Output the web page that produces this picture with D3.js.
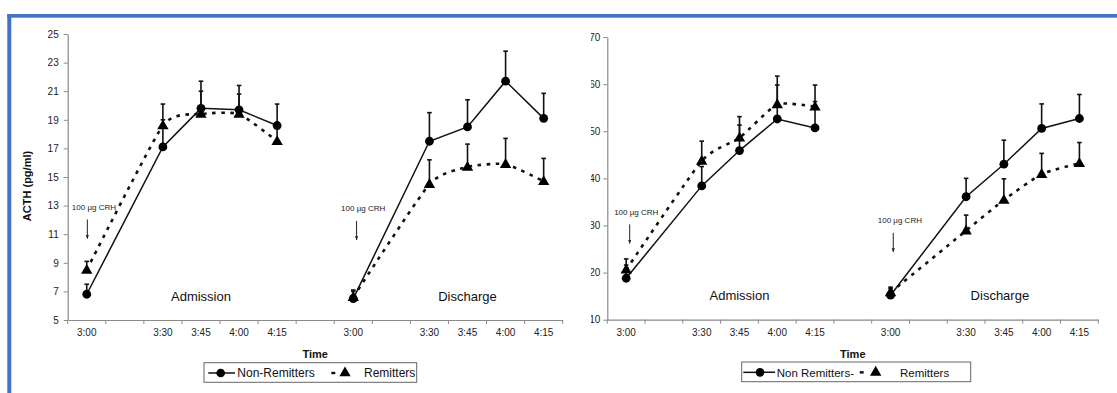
<!DOCTYPE html>
<html>
<head>
<meta charset="utf-8">
<script src="https://cdn.jsdelivr.net/npm/d3@7"></script>
<style>
  html, body { margin: 0; padding: 0; background: #fff; }
  svg { display: block; font-family: "Liberation Sans", Arial, sans-serif; }
</style>
</head>
<body>
<svg id="chart" width="1117" height="393"></svg>
<script>
// Category axis: sampling times, with blank slots separating the two sessions
const timeLabels = ["3:00", "", "3:30", "3:45", "4:00", "4:15", "", "3:00", "", "3:30", "3:45", "4:00", "4:15"];
const sessions = ["Admission", "Discharge"];

// Left figure: ACTH (pg/ml), mean and SE
const acthNonRemAdmission   = [6.8, 17.1, 19.8, 19.7, 18.6];
const acthNonRemAdmissionSE = [0.7, 3.0, 1.9, 1.7, 1.5];
const acthRemAdmission      = [8.5, 18.6, 19.4, 19.4, 17.5];
const acthRemAdmissionSE    = [0.6, 0.4, 1.6, 1.4, 0.9];
const acthNonRemDischarge   = [6.5, 17.5, 18.5, 21.7, 19.1];
const acthNonRemDischargeSE = [0.6, 2.0, 1.9, 2.1, 1.75];
const acthRemDischarge      = [6.6, 14.5, 15.7, 15.9, 14.7];
const acthRemDischargeSE    = [0.4, 1.7, 1.6, 1.8, 1.6];
const acthTicks = [5, 7, 9, 11, 13, 15, 17, 19, 21, 23, 25];

// Right figure: mean and SE
const rightNonRemAdmission   = [18.8, 38.4, 45.9, 52.6, 50.7];
const rightNonRemAdmissionSE = [2.8, 4.1, 5.4, 7.2, 5.6];
const rightRemAdmission      = [20.6, 43.7, 48.6, 55.7, 55.2];
const rightRemAdmissionSE    = [2.3, 4.2, 4.5, 6.0, 4.6];
const rightNonRemDischarge   = [15.2, 36.1, 43.0, 50.6, 52.7];
const rightNonRemDischargeSE = [1.7, 3.9, 5.1, 5.2, 5.1];
const rightRemDischarge      = [15.8, 28.9, 35.4, 40.9, 43.2];
const rightRemDischargeSE    = [0.8, 3.3, 4.5, 4.4, 4.4];
const rightTicks = [10, 20, 30, 40, 50, 60, 70];

const doseLabel = "100 µg CRH";

// Category slots that carry a time label, split per session
const filled = timeLabels.map((t, i) => t ? i : -1).filter(i => i >= 0);
const sessionSlots = [filled.slice(0, 5), filled.slice(5, 10)];

const svg = d3.select("#chart");
const defs = svg.append("defs");

// Slide frame
const frameColor = "#4472c4";
svg.append("rect").attr("x", 7.3).attr("y", 14).attr("width", 1117 - 7.3).attr("height", 3.7).attr("fill", frameColor);
svg.append("rect").attr("x", 7.3).attr("y", 14).attr("width", 4).attr("height", 393 - 14).attr("fill", frameColor);

const panels = [
  {
    xRange: [67.7, 562.7], yDomain: [5, 25], yRange: [320, 34], ticks: acthTicks,
    yTitle: "ACTH (pg/ml)", tickPad: 5, clipX: null, legendFont: 12,
    series: [
      { name: "Non-Remitters", kind: "non", data: [[acthNonRemAdmission, acthNonRemAdmissionSE], [acthNonRemDischarge, acthNonRemDischargeSE]] },
      { name: "Remitters", kind: "rem", data: [[acthRemAdmission, acthRemAdmissionSE], [acthRemDischarge, acthRemDischargeSE]] }
    ],
    arrowTip: [10.7, 10.6], arrowDx: [0.6, 3.3], labelDx: [0, 0],
    legend: { x: 204, y: 362.7, w: 212.7, h: 19.6, line: [4.3, 31], dot: 16.7, t1: 33.3, dash: 129.3, tri: 141, t2: 160 }
  },
  {
    xRange: [607.3, 1098.3], yDomain: [10, 70], yRange: [319.7, 37], ticks: rightTicks,
    yTitle: null, tickPad: 3, clipX: 591, legendFont: 11.5,
    series: [
      { name: "Non Remitters-", kind: "non", data: [[rightNonRemAdmission, rightNonRemAdmissionSE], [rightNonRemDischarge, rightNonRemDischargeSE]] },
      { name: "Remitters", kind: "rem", data: [[rightRemAdmission, rightRemAdmissionSE], [rightRemDischarge, rightRemDischargeSE]] }
    ],
    arrowTip: [26.2, 24.4], arrowDx: [3.5, 2.7], labelDx: [0, -4],
    legend: { x: 741.7, y: 362, w: 229, h: 19.7, line: [1.6, 33.3], dot: 18.3, t1: 35, dash: 120, tri: 134, t2: 158.3 }
  }
];

// Arrowhead marker
defs.append("marker")
  .attr("id", "arrowhead").attr("viewBox", "0 0 10 10")
  .attr("refX", 9).attr("refY", 5).attr("markerWidth", 4).attr("markerHeight", 5)
  .attr("orient", "auto")
  .append("path").attr("d", "M0,1 L10,5 L0,9 Z").attr("fill", "#222");

const triangle = d3.symbol().type(d3.symbolTriangle).size(56);
const axisGray = "#8a8a8a";

panels.forEach((p, pi) => {
  const g = svg.append("g");
  if (p.clipX !== null) {
    defs.append("clipPath").attr("id", "clip" + pi)
      .append("rect").attr("x", p.clipX).attr("y", 0).attr("width", 1117 - p.clipX).attr("height", 393);
    g.attr("clip-path", `url(#clip${pi})`);
  }

  const x = d3.scaleBand().domain(d3.range(timeLabels.length)).range(p.xRange).padding(0);
  const y = d3.scaleLinear().domain(p.yDomain).range(p.yRange);
  const cx = i => x(i) + x.bandwidth() / 2;
  const axisY = p.yRange[0];

  // Y axis
  const yAxis = g.append("g").attr("transform", `translate(${p.xRange[0]},0)`)
    .call(d3.axisLeft(y).tickValues(p.ticks).tickSize(4).tickPadding(p.tickPad).tickSizeOuter(0));
  yAxis.select(".domain").attr("stroke", axisGray).attr("stroke-width", 1.2);
  yAxis.selectAll(".tick line").attr("stroke", axisGray);
  yAxis.selectAll(".tick text").attr("font-size", 10).attr("fill", "#222").attr("font-family", "Liberation Sans, Arial, sans-serif");

  // X axis: labels centred in slots, tick marks on slot edges
  const xAxis = g.append("g").attr("transform", `translate(0,${axisY})`)
    .call(d3.axisBottom(x).tickSize(0).tickPadding(9).tickFormat(i => timeLabels[i]));
  xAxis.select(".domain").attr("stroke", axisGray).attr("stroke-width", 1.2);
  xAxis.selectAll(".tick text").attr("font-size", 10).attr("fill", "#222").attr("font-family", "Liberation Sans, Arial, sans-serif");
  const edges = d3.range(timeLabels.length).map(i => x(i)).concat([p.xRange[1]]);
  g.append("g").selectAll("line").data(edges).join("line")
    .attr("x1", d => d).attr("x2", d => d).attr("y1", axisY).attr("y2", axisY + 4)
    .attr("stroke", axisGray).attr("stroke-width", 1);

  g.append("text").attr("x", (p.xRange[0] + p.xRange[1]) / 2).attr("y", 357.5)
    .attr("text-anchor", "middle").attr("font-size", 11).attr("font-weight", "bold").attr("fill", "#111")
    .text("Time");

  if (p.yTitle) {
    g.append("text").attr("transform", `translate(31,186) rotate(-90)`)
      .attr("text-anchor", "middle").attr("font-size", 11).attr("font-weight", "bold").attr("fill", "#111")
      .text(p.yTitle);
  }

  // Session names and dose annotations
  sessions.forEach((s, si) => {
    const slots = sessionSlots[si];
    g.append("text").attr("x", cx(slots[2]) + p.labelDx[si]).attr("y", axisY - 19.5)
      .attr("text-anchor", "middle").attr("font-size", 13).attr("fill", "#111").text(s);
    const ax = cx(slots[0]) + p.arrowDx[si];
    const tipY = y(p.arrowTip[si]);
    g.append("line").attr("x1", ax).attr("x2", ax).attr("y1", tipY - 19).attr("y2", tipY)
      .attr("stroke", "#222").attr("stroke-width", 1).attr("marker-end", "url(#arrowhead)");
    g.append("text").attr("x", ax - 15.5).attr("y", tipY - 28.5)
      .attr("font-size", 8).attr("fill", "#222").text(doseLabel);
  });

  // Series
  const lineStraight = d3.line().x(d => cx(d.slot)).y(d => y(d.v));
  const lineSmooth = d3.line().x(d => cx(d.slot)).y(d => y(d.v)).curve(d3.curveCardinal.tension(0.45));

  p.series.forEach(s => {
    s.data.forEach(([vals, se], si) => {
      const pts = vals.map((v, k) => ({ slot: sessionSlots[si][k], v, se: se[k] }));
      const sg = g.append("g");
      // error bars (upper only)
      pts.forEach(d => {
        const px = cx(d.slot);
        sg.append("line").attr("x1", px).attr("x2", px).attr("y1", y(d.v)).attr("y2", y(d.v + d.se))
          .attr("stroke", "#111").attr("stroke-width", 1.6);
        sg.append("line").attr("x1", px - 2.3).attr("x2", px + 2.3).attr("y1", y(d.v + d.se)).attr("y2", y(d.v + d.se))
          .attr("stroke", "#111").attr("stroke-width", 1.6);
      });
      if (s.kind === "non") {
        sg.append("path").attr("d", lineStraight(pts)).attr("fill", "none").attr("stroke", "#111").attr("stroke-width", 1.5);
        sg.selectAll("circle").data(pts).join("circle")
          .attr("cx", d => cx(d.slot)).attr("cy", d => y(d.v)).attr("r", 4.4).attr("fill", "#000");
      } else {
        sg.append("path").attr("d", lineSmooth(pts)).attr("fill", "none").attr("stroke", "#111")
          .attr("stroke-width", 2.6).attr("stroke-dasharray", "3.5,5.5");
        sg.selectAll("path.tri").data(pts).join("path").attr("class", "tri")
          .attr("transform", d => `translate(${cx(d.slot)},${y(d.v) + 0.5})`).attr("d", triangle).attr("fill", "#000");
      }
    });
  });

  // Legend
  const L = p.legend;
  const lg = g.append("g").attr("transform", `translate(${L.x},${L.y})`);
  lg.append("rect").attr("width", L.w).attr("height", L.h).attr("fill", "#fff").attr("stroke", "#666").attr("stroke-width", 1);
  const my = L.h / 2 + 0.5;
  lg.append("line").attr("x1", L.line[0]).attr("x2", L.line[1]).attr("y1", my).attr("y2", my).attr("stroke", "#111").attr("stroke-width", 1.5);
  lg.append("circle").attr("cx", L.dot).attr("cy", my).attr("r", 4.3).attr("fill", "#000");
  lg.append("text").attr("x", L.t1).attr("y", my + 4.2).attr("font-size", p.legendFont).attr("fill", "#111").text(p.series[0].name);
  lg.append("line").attr("x1", L.dash - 2).attr("x2", L.dash + 2).attr("y1", my).attr("y2", my).attr("stroke", "#111").attr("stroke-width", 2.4);
  lg.append("path").attr("transform", `translate(${L.tri},${my})`).attr("d", triangle).attr("fill", "#000");
  lg.append("text").attr("x", L.t2).attr("y", my + 4.2).attr("font-size", p.legendFont).attr("fill", "#111").text(p.series[1].name);
});
</script>
</body>
</html>
